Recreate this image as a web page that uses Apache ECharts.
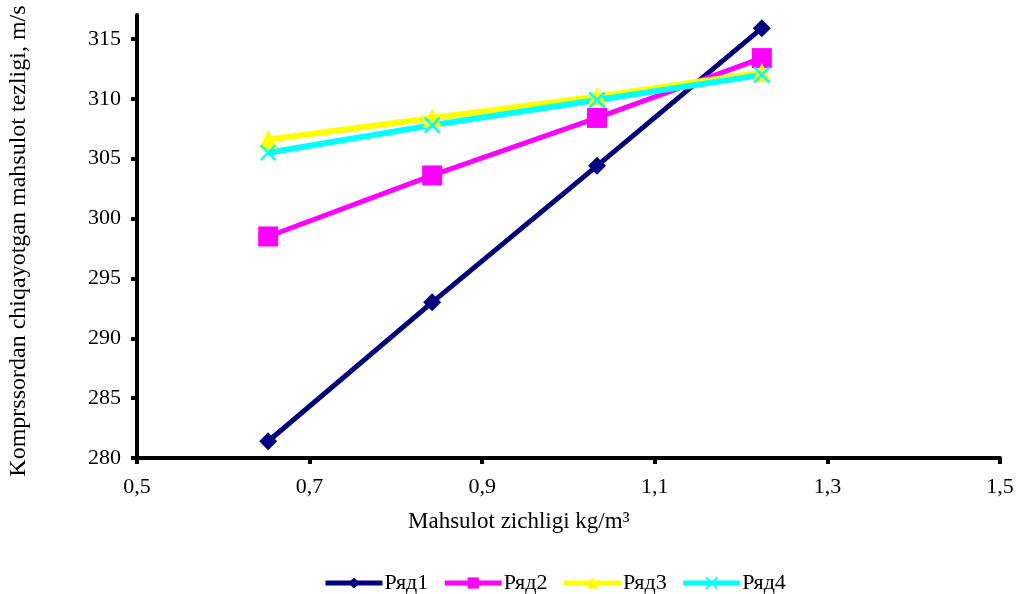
<!DOCTYPE html>
<html>
<head>
<meta charset="utf-8">
<script src="https://cdn.jsdelivr.net/npm/echarts@6/dist/echarts.min.js"></script>
<style>
html,body{margin:0;padding:0;background:#fff;}
#chart{width:1018px;height:594px;}
</style>
</head>
<body>
<div id="chart"></div>
<script>
// данные
var xVals = [0.652, 0.842, 1.033, 1.224];
var ryad1 = [281.4, 293.0, 304.4, 315.9];
var ryad2 = [298.5, 303.6, 308.4, 313.4];
var ryad3 = [306.6, 308.4, 310.2, 312.2];
var ryad4 = [305.5, 307.8, 309.9, 312.0];
var seriesNames = ['Ряд1', 'Ряд2', 'Ряд3', 'Ряд4'];

var fontFam = '"Liberation Serif","DejaVu Serif",serif';
var crossPath = 'path://M0,0L10,10M10,0L0,10';

function pairs(ys) {
    var out = [];
    for (var i = 0; i < ys.length; i++) {
        out.push([xVals[i], ys[i]]);
    }
    return out;
}

function mkSeries(name, ys, color, symbol, size, width, extra) {
    var s = {
        name: name,
        type: 'line',
        data: pairs(ys),
        symbol: symbol,
        symbolSize: size,
        showAllSymbol: true,
        lineStyle: {color: color, width: width},
        itemStyle: {color: color},
        emphasis: {disabled: true}
    };
    if (extra) {
        s.itemStyle = extra;
    }
    return s;
}

var myChart = echarts.init(document.getElementById('chart'));
var option = {
    animation: false,
    backgroundColor: '#fff',
    grid: {left: 137, right: 18, top: 15, bottom: 136},
    legend: {
        top: 567,
        left: 318,
        itemWidth: 57,
        itemHeight: 14,
        itemGap: 14,
        lineStyle: {width: 5},
        textStyle: {fontFamily: fontFam, fontSize: 22, color: '#000', padding: [0, 0, 0, -3]},
        data: seriesNames
    },
    xAxis: {
        type: 'value',
        min: 0.5,
        max: 1.5,
        interval: 0.2,
        splitLine: {show: false},
        axisLine: {lineStyle: {color: '#000', width: 4}},
        axisTick: {show: true, length: 6, lineStyle: {color: '#000', width: 4}},
        axisLabel: {
            fontFamily: fontFam, fontSize: 22, color: '#000', margin: 18,
            formatter: function (v) { return v.toFixed(1).replace('.', ','); }
        }
    },
    yAxis: {
        type: 'value',
        min: 280,
        max: 317,
        interval: 5,
        splitLine: {show: false},
        axisLine: {lineStyle: {color: '#000', width: 4}},
        axisTick: {show: true, length: 6, lineStyle: {color: '#000', width: 4}},
        axisLabel: {fontFamily: fontFam, fontSize: 22, color: '#000', margin: 16,
            showMaxLabel: false}
    },
    graphic: [
        {
            type: 'text',
            left: 408, top: 510,
            style: {text: 'Mahsulot zichligi kg/m³', fontFamily: fontFam, fontSize: 23, fill: '#000'}
        },
        {
            type: 'text',
            x: 7, y: 241,
            rotation: Math.PI / 2,
            style: {text: 'Komprssordan chiqayotgan mahsulot tezligi, m/s', fontFamily: fontFam, fontSize: 24,
                fill: '#000', align: 'center', verticalAlign: 'top'}
        }
    ],
    series: [
        mkSeries('Ряд1', ryad1, '#000080', 'diamond', 18, 5),
        mkSeries('Ряд2', ryad2, '#ff00ff', 'rect', 20, 5),
        mkSeries('Ряд3', ryad3, '#ffff00', 'triangle', 19, 6),
        mkSeries('Ряд4', ryad4, '#00ffff', crossPath, 15, 6,
            {color: 'rgba(0,0,0,0)', borderColor: '#00ffff', borderWidth: 2.5})
    ]
};
myChart.setOption(option);
</script>
</body>
</html>
